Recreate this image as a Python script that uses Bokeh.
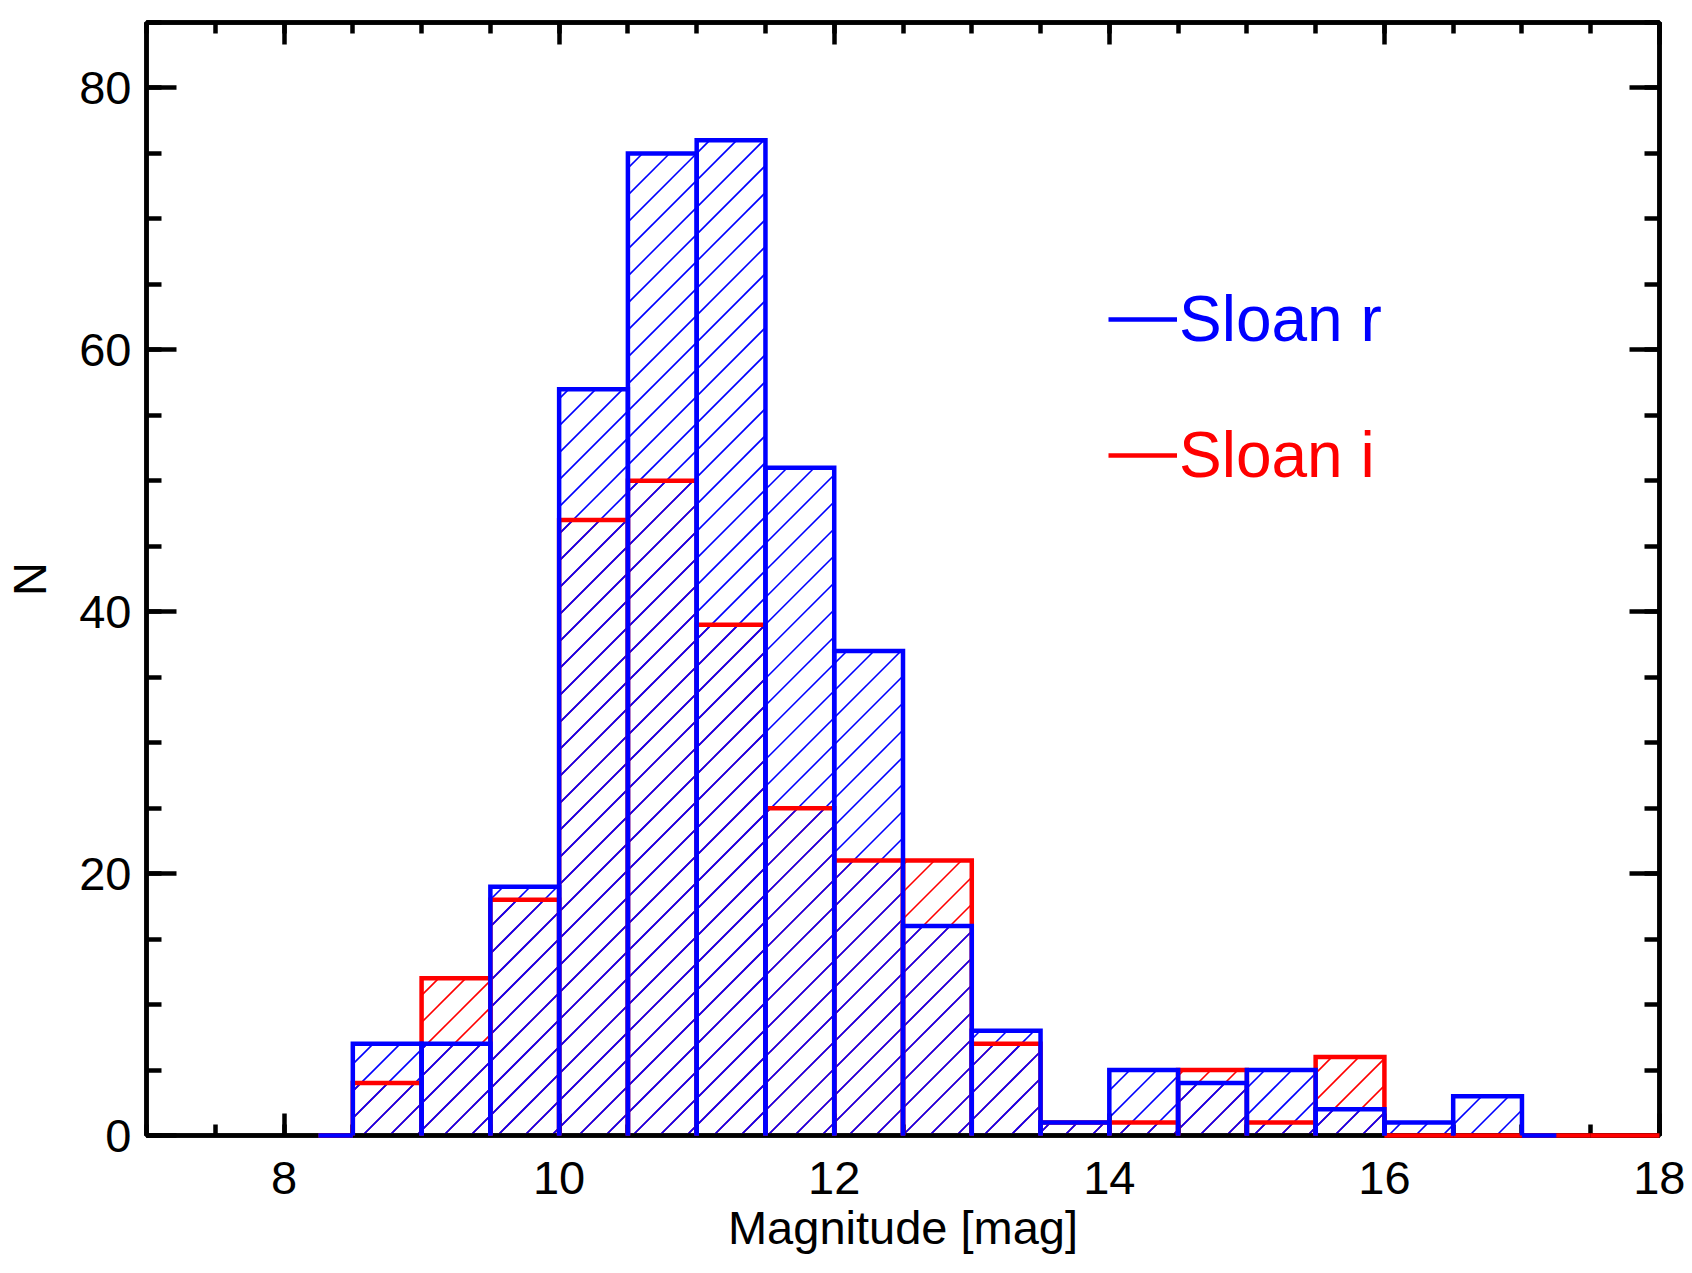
import math
from bokeh.plotting import figure
from bokeh.models import (Range1d, LinearAxis, SingleIntervalTicker, Legend, LegendItem,
                          CustomJSTickFormatter)
from bokeh.embed import file_html
from bokeh.resources import INLINE

# ---------------- data ----------------
r_left = [8.5, 9.0, 9.5, 10.0, 10.5, 11.0, 11.5, 12.0, 12.5, 13.0, 13.5, 14.0, 14.5, 15.0, 15.5, 16.0, 16.5]
r_right = [9.0, 9.5, 10.0, 10.5, 11.0, 11.5, 12.0, 12.5, 13.0, 13.5, 14.0, 14.5, 15.0, 15.5, 16.0, 16.5, 17.0]
r_counts = [7, 7, 19, 57, 75, 76, 51, 37, 16, 8, 1, 5, 4, 5, 2, 1, 3]

i_left = [8.5, 9.0, 9.5, 10.0, 10.5, 11.0, 11.5, 12.0, 12.5, 13.0, 13.5, 14.0, 14.5, 15.0, 15.5, 16.0, 16.5, 17.0, 17.5]
i_right = [9.0, 9.5, 10.0, 10.5, 11.0, 11.5, 12.0, 12.5, 13.0, 13.5, 14.0, 14.5, 15.0, 15.5, 16.0, 16.5, 17.0, 17.5, 18.0]
i_counts = [4, 12, 18, 47, 50, 39, 25, 21, 21, 7, 1, 1, 5, 1, 6, 0, 0, 0, 0]

series_names = ["Sloan r", "Sloan i"]

# ---------------- style / layout ----------------
BLUE = "#0000ff"
RED = "#ff0000"
FONT = "Liberation Sans"
FRAME_W, FRAME_H = 1513, 1113
X0, X1 = 7, 18
Y0, Y1 = 0, 85
HATCH_PX = 27  # horizontal spacing of the 45 degree hatch lines, in pixels

p = figure(frame_width=FRAME_W, frame_height=FRAME_H,
           x_range=Range1d(X0, X1), y_range=Range1d(Y0, Y1),
           output_backend="svg", toolbar_location=None,
           x_axis_location=None, y_axis_location=None,
           min_border_left=137, min_border_right=26,
           min_border_top=22, min_border_bottom=122)
p.grid.visible = False
p.outline_line_color = "black"
p.outline_line_width = 4.5
p.background_fill_color = "white"
p.border_fill_color = "white"


def style_axis(ax, is_x, labels=True):
    ax.axis_line_width = 4.5
    ax.major_tick_line_width = 4.5
    ax.minor_tick_line_width = 4.5
    ax.major_tick_out = 0
    ax.minor_tick_out = 0
    if is_x:
        ax.major_tick_in = 22
        ax.minor_tick_in = 11
    else:
        ax.major_tick_in = 30
        ax.minor_tick_in = 15
    ax.major_label_text_font = FONT
    ax.major_label_text_font_size = "47px"
    ax.major_label_text_color = "black"
    ax.axis_label_text_font = FONT
    ax.axis_label_text_font_size = "47px"
    ax.axis_label_text_font_style = "normal"
    ax.axis_label_text_color = "black"
    if not labels:
        ax.formatter = CustomJSTickFormatter(code="return ''")
        ax.major_label_standoff = 0


xb = LinearAxis(ticker=SingleIntervalTicker(interval=2, num_minor_ticks=4), axis_label="Magnitude [mag]")
style_axis(xb, True)
xb.major_label_standoff = 26
xb.axis_label_standoff = 4
xt = LinearAxis(ticker=SingleIntervalTicker(interval=2, num_minor_ticks=4))
style_axis(xt, True, labels=False)
yl = LinearAxis(ticker=SingleIntervalTicker(interval=20, num_minor_ticks=4), axis_label="N")
style_axis(yl, False)
yl.major_label_standoff = 15
yl.axis_label_standoff = 20
yr = LinearAxis(ticker=SingleIntervalTicker(interval=20, num_minor_ticks=4))
style_axis(yr, False, labels=False)
p.add_layout(xb, "below")
p.add_layout(xt, "above")
p.add_layout(yl, "left")
p.add_layout(yr, "right")

SX = FRAME_W / (X1 - X0)  # px per x unit
SY = FRAME_H / (Y1 - Y0)  # px per y unit


# 45-degree hatch lines clipped to each bar
def hatch_lines(lefts, rights, counts):
    xs, ys = [], []
    for l, r, c in zip(lefts, rights, counts):
        L, R, T = (l - X0) * SX, (r - X0) * SX, (c - Y0) * SY
        if T <= 0:
            continue
        n0 = math.floor((L - T) / HATCH_PX) - 1
        n1 = math.ceil(R / HATCH_PX) + 1
        for n in range(n0, n1 + 1):
            u = n * HATCH_PX
            ya = max(0.0, L - u)
            yb = min(T, R - u)
            if yb - ya > 0.5:
                xs.append([(u + ya) / SX + X0, (u + yb) / SX + X0])
                ys.append([ya / SY + Y0, yb / SY + Y0])
    return xs, ys


for lefts, rights, counts, col in ((i_left, i_right, i_counts, RED), (r_left, r_right, r_counts, BLUE)):
    hx, hy = hatch_lines(lefts, rights, counts)
    p.multi_line(hx, hy, line_color=col, line_width=1.6)


# outlines: each bar drawn as left edge, top, right edge (no bottom)
def outline_paths(lefts, rights, counts):
    xs, ys = [], []
    for l, r, c in zip(lefts, rights, counts):
        xs.append([l, l, r, r])
        ys.append([0, c, c, 0])
    half = (rights[0] - lefts[0]) / 2.0
    xs.append([lefts[0] - half, lefts[0]])
    ys.append([0, 0])
    end = min(rights[-1] + half, X1)
    if end > rights[-1]:
        xs.append([rights[-1], end])
        ys.append([0, 0])
    return xs, ys


xs_i, ys_i = outline_paths(i_left, i_right, i_counts)
xs_r, ys_r = outline_paths(r_left, r_right, r_counts)
rend_i = p.multi_line(xs_i, ys_i, line_color=RED, line_width=4.5, line_join="miter", level="overlay")
rend_r = p.multi_line(xs_r, ys_r, line_color=BLUE, line_width=4.5, line_join="miter", level="overlay")


def make_legend(label, rend, col, loc):
    lg = Legend(items=[LegendItem(label=label, renderers=[rend])], location=loc,
                border_line_color=None, background_fill_alpha=0, padding=0, margin=0,
                glyph_width=69, glyph_height=20, label_standoff=2, spacing=0,
                label_text_font=FONT, label_text_font_size="64px", label_text_color=col)
    p.add_layout(lg, "center")


make_legend(series_names[0], rend_r, BLUE, (962, 779))
make_legend(series_names[1], rend_i, RED, (962, 643))

open("out.html", "w").write(file_html(p, INLINE))
